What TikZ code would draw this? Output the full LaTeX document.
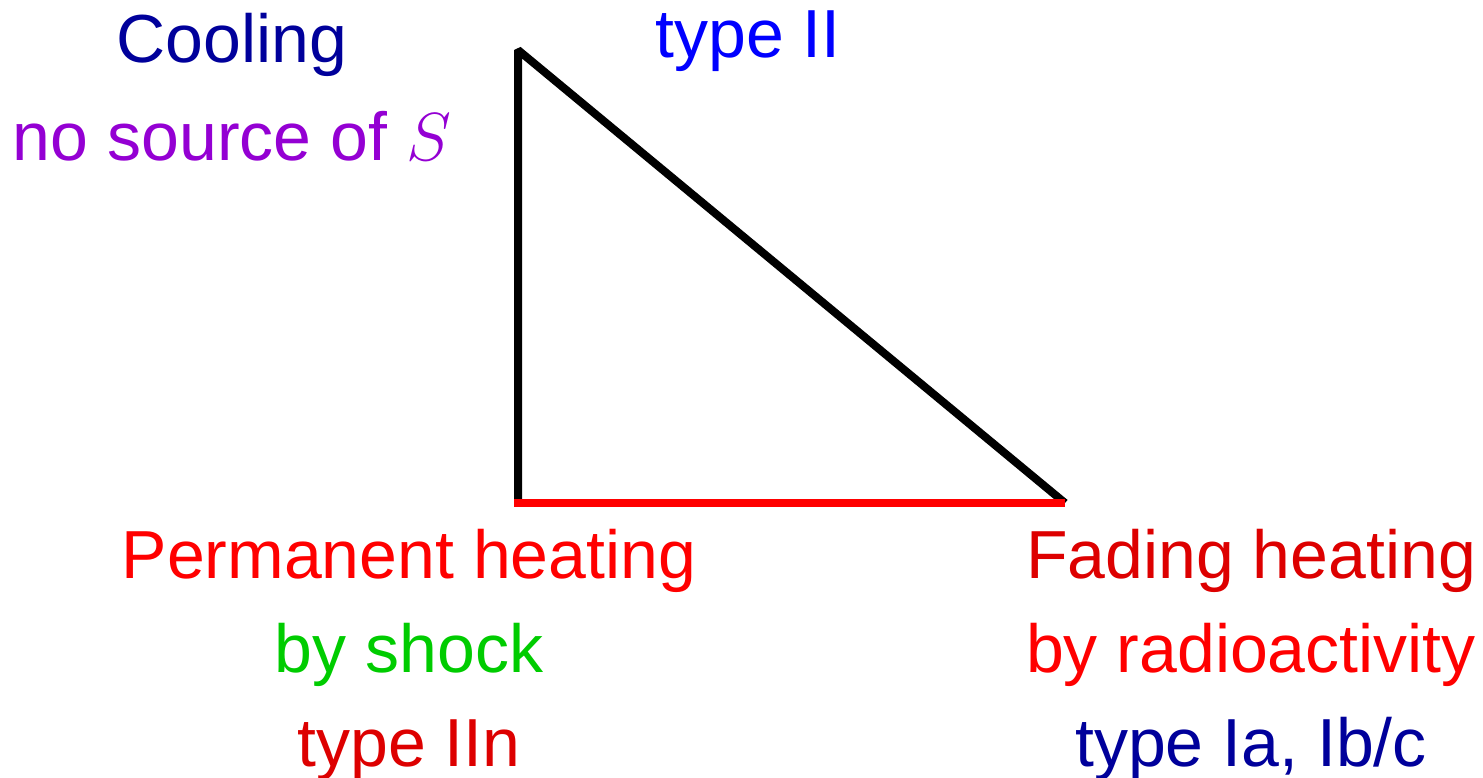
\RequirePackage{fix-cm}
\documentclass[tikz,border=0pt]{standalone}
\usepackage{fontspec}
\setmainfont{Liberation Sans}
\definecolor{cdarkblue}{RGB}{0,0,155}
\definecolor{cblue}{RGB}{0,0,255}
\definecolor{cpurple}{RGB}{148,0,211}
\definecolor{cred}{RGB}{255,0,0}
\definecolor{cdarkred}{RGB}{221,0,0}
\definecolor{cgreen}{RGB}{0,204,0}
\begin{document}
\begin{tikzpicture}[x=1pt,y=-1pt,
  lbl/.style={anchor=base,inner sep=0pt,font=\fontsize{68}{80}\selectfont},
  edge/.style={line width=8pt}]
\useasboundingbox (0,0) rectangle (1483,778);
\coordinate (top) at (518,50);
\coordinate (bl) at (518,503);
\coordinate (br) at (1065,503);
\draw[edge,line join=bevel] (bl) -- (top) -- (br);
\draw[edge,cred] ([xshift=-4pt]bl) -- (br);
\node[lbl,text=cdarkblue] (cool) at (232,63) {Cooling};
\node[lbl,text=cpurple] (nosrc) at (232,161) {no source of $S$};
\node[lbl,text=cblue] (t2) at (748,58) {type II};
\node[lbl,text=cred] (perm) at (409,578) {Permanent heating};
\node[lbl,text=cgreen] (shock) at (409,672) {by shock};
\node[lbl,text=cdarkred] (t2n) at (409,766) {type IIn};
\node[lbl,text=cdarkred] (fade) at (1251,578) {Fading heating};
\node[lbl,text=cred] (radio) at (1251,672) {by radioactivity};
\node[lbl,text=cdarkblue] (t1) at (1251,766) {type Ia, Ib/c};
\end{tikzpicture}
\end{document}
